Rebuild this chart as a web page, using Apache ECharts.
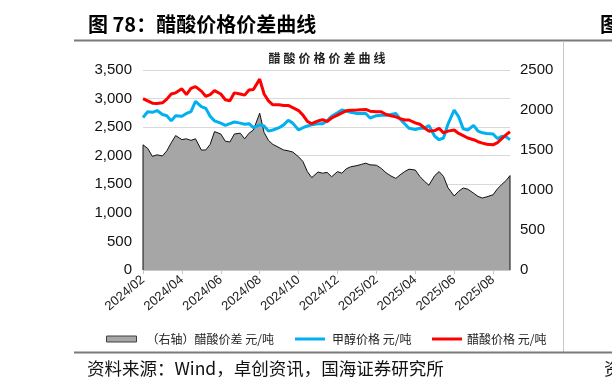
<!DOCTYPE html>
<html>
<head>
<meta charset="utf-8">
<script src="https://cdn.jsdelivr.net/npm/echarts@6/dist/echarts.min.js"></script>
<style>
html,body{margin:0;padding:0;background:#fff;}
#c{width:612px;height:390px;}
</style>
</head>
<body>
<div id="c"></div>
<script>
// ---- data ----
const dates = [
 '2024-02-01','2024-02-08','2024-02-15','2024-02-22',
 '2024-03-01','2024-03-08','2024-03-15','2024-03-22',
 '2024-04-01','2024-04-08','2024-04-15','2024-04-22',
 '2024-05-01','2024-05-08','2024-05-15','2024-05-22',
 '2024-06-01','2024-06-08','2024-06-15','2024-06-22',
 '2024-07-01','2024-07-08','2024-07-15','2024-07-22',
 '2024-08-01','2024-08-08','2024-08-15','2024-08-22',
 '2024-09-01','2024-09-08','2024-09-15','2024-09-22',
 '2024-10-01','2024-10-08','2024-10-15','2024-10-22',
 '2024-11-01','2024-11-08','2024-11-15','2024-11-22',
 '2024-12-01','2024-12-08','2024-12-15','2024-12-22',
 '2025-01-01','2025-01-08','2025-01-15','2025-01-22',
 '2025-02-01','2025-02-08','2025-02-15','2025-02-22',
 '2025-03-01','2025-03-08','2025-03-15','2025-03-22',
 '2025-04-01','2025-04-08','2025-04-15','2025-04-22',
 '2025-05-01','2025-05-08','2025-05-15','2025-05-22',
 '2025-06-01','2025-06-08','2025-06-15','2025-06-22',
 '2025-07-01','2025-07-08','2025-07-15','2025-07-22',
 '2025-08-01','2025-08-08','2025-08-15','2025-08-22',
 '2025-08-28'
];
// 醋酸价差 (right axis)
const spread = [
 1565,1520,1420,1440, 1425,1490,1590,1680, 1630,1640,1620,1640,
 1500,1500,1570,1730, 1700,1610,1600,1700, 1710,1640,1710,1750,
 1960,1720,1620,1570, 1530,1500,1490,1475, 1415,1355,1230,1155,
 1225,1210,1220,1165, 1230,1210,1265,1290, 1305,1320,1335,1315,
 1310,1270,1215,1175, 1145,1190,1230,1260, 1250,1170,1110,1060,
 1180,1230,1170,1030, 925,985,1025,1010, 960,920,900,915,
 940,1015,1070,1120, 1180
];
// 甲醇价格
const methanol = [
 2670,2770,2760,2790, 2720,2700,2610,2700, 2690,2740,2770,2950,
 2860,2830,2690,2610, 2570,2530,2560,2590, 2570,2550,2560,2490,
 2540,2520,2430,2450, 2490,2540,2620,2570, 2450,2490,2520,2540,
 2560,2560,2610,2690, 2750,2800,2780,2760, 2740,2740,2740,2660,
 2700,2710,2710,2720, 2740,2640,2560,2480, 2460,2480,2480,2530,
 2340,2280,2310,2550, 2800,2680,2470,2450, 2530,2430,2400,2390,
 2380,2300,2340,2330, 2280
];
// 醋酸价格
const acetic = [
 3000,2960,2920,2915, 2925,2990,3080,3100, 3170,3070,3180,3210,
 3130,3040,3070,3140, 3080,2980,2960,3100, 3080,3060,3150,3160,
 3340,3080,2960,2890, 2890,2880,2880,2840, 2790,2710,2600,2560,
 2610,2630,2600,2660, 2710,2750,2785,2795, 2800,2805,2810,2780,
 2770,2770,2720,2700, 2680,2650,2625,2625, 2575,2550,2490,2430,
 2440,2480,2400,2430, 2450,2390,2350,2310, 2280,2245,2220,2200,
 2190,2230,2300,2370, 2420
];
const xTickLabels = ['2024/02','2024/04','2024/06','2024/08','2024/10','2024/12','2025/02','2025/04','2025/06','2025/08'];
const names = ['（右轴）醋酸价差 元/吨','甲醇价格 元/吨','醋酸价格 元/吨'];

// ---- helpers ----
function monthIndex(s){
  const p = s.split('-').map(Number);
  const dim = new Date(p[0], p[1], 0).getDate();
  return (p[0]-2024)*12 + (p[1]-2) + (p[2]-1)/dim;
}
const xs = dates.map(monthIndex);
const pair = arr => arr.map((v,i)=>[xs[i], v]);
const spreadData = [[xs[0],0]].concat(pair(spread), [[xs[xs.length-1],0]]);

const CJK = '"Noto Sans CJK SC", sans-serif';
const LAT = '"Liberation Sans", Arial, sans-serif';

const chart = echarts.init(document.getElementById('c'), null, {renderer:'canvas'});
chart.setOption({
  animation:false,
  backgroundColor:'#fff',
  grid:{left:143, right:102, top:70, bottom:120, containLabel:false},
  xAxis:{
    type:'value', min:0, max:xs[xs.length-1], interval:2,
    axisLine:{show:true, lineStyle:{color:'#c8c8c8', width:1}},
    axisTick:{show:true, length:4, lineStyle:{color:'#c8c8c8'}},
    splitLine:{show:false},
    axisLabel:{
      rotate:40, margin:8, fontSize:13, color:'#222', fontFamily:LAT,
      showMaxLabel:false,
      formatter:v=>{ const i=Math.round(v/2); return xTickLabels[i]||''; }
    }
  },
  yAxis:[
    {type:'value', min:0, max:3500, interval:500, position:'left',
     axisLine:{show:false}, axisTick:{show:false},
     splitLine:{show:true, lineStyle:{color:'#d9d9d9', width:1}},
     axisLabel:{fontSize:15, color:'#111', fontFamily:LAT, margin:11,
       formatter:v=>String(v).replace(/\B(?=(\d{3})+(?!\d))/g, ',')}},
    {type:'value', min:0, max:2500, interval:500, position:'right',
     axisLine:{show:false}, axisTick:{show:false}, splitLine:{show:false},
     axisLabel:{fontSize:15, color:'#111', fontFamily:LAT, margin:10,
       formatter:v=>String(v)}}
  ],
  legend:[
    {left:101, top:328, itemWidth:30, itemHeight:6,
     textStyle:{fontSize:12, color:'#222', fontFamily:CJK, padding:[0,0,0,5]},
     data:[{name:names[0], icon:'rect', itemStyle:{color:'#a6a6a6', borderColor:'#404040', borderWidth:1}}]},
    {left:290, top:328, itemWidth:30, itemHeight:3,
     textStyle:{fontSize:12, color:'#222', fontFamily:CJK, padding:[0,0,0,2]},
     data:[{name:names[1], icon:'rect', itemStyle:{color:'#00b0f0', borderWidth:0}}]},
    {left:427, top:328, itemWidth:30, itemHeight:3,
     textStyle:{fontSize:12, color:'#222', fontFamily:CJK, padding:[0,0,0,0]},
     data:[{name:names[2], icon:'rect', itemStyle:{color:'#ff0000', borderWidth:0}}]}
  ],
  series:[
    {name:names[0], type:'line', yAxisIndex:1, data:spreadData, symbol:'none',
     lineStyle:{color:'#111', width:1}, itemStyle:{color:'#a6a6a6'},
     areaStyle:{color:'#a6a6a6', opacity:1}, z:1},
    {name:names[1], type:'line', yAxisIndex:0, data:pair(methanol), symbol:'none',
     lineStyle:{color:'#00b0f0', width:3}, itemStyle:{color:'#00b0f0'}, z:2},
    {name:names[2], type:'line', yAxisIndex:0, data:pair(acetic), symbol:'none',
     lineStyle:{color:'#ff0000', width:3}, itemStyle:{color:'#ff0000'}, z:3}
  ],
  graphic:[
    {type:'text', left:88, top:14, style:{text:'图 78：醋酸价格价差曲线', font:'bold 20px '+CJK, fill:'#000'}},
    {type:'text', left:600, top:14, style:{text:'图', font:'bold 20px '+CJK, fill:'#000'}},
    {type:'line', shape:{x1:74, y1:40.5, x2:612, y2:40.5}, style:{stroke:'#7a7a7a', lineWidth:2}},
    {type:'line', shape:{x1:563.5, y1:41, x2:563.5, y2:352}, style:{stroke:'#c8c8c8', lineWidth:1}},
    {type:'text', x:327, y:58.5, style:{text:'醋\u2005酸\u2005价\u2005格\u2005价\u2005差\u2005曲\u2005线', font:'bold 12px '+CJK, fill:'#222', textAlign:'center', textVerticalAlign:'middle'}},
    {type:'line', shape:{x1:74, y1:352.5, x2:612, y2:352.5}, style:{stroke:'#7a7a7a', lineWidth:2}},
    {type:'text', left:87, top:360, style:{text:'资料来源：Wind，卓创资讯，国海证券研究所', font:'17.5px '+CJK, fill:'#111'}},
    {type:'text', left:604, top:360, style:{text:'资', font:'17.5px '+CJK, fill:'#111'}}
  ]
});
</script>
</body>
</html>
